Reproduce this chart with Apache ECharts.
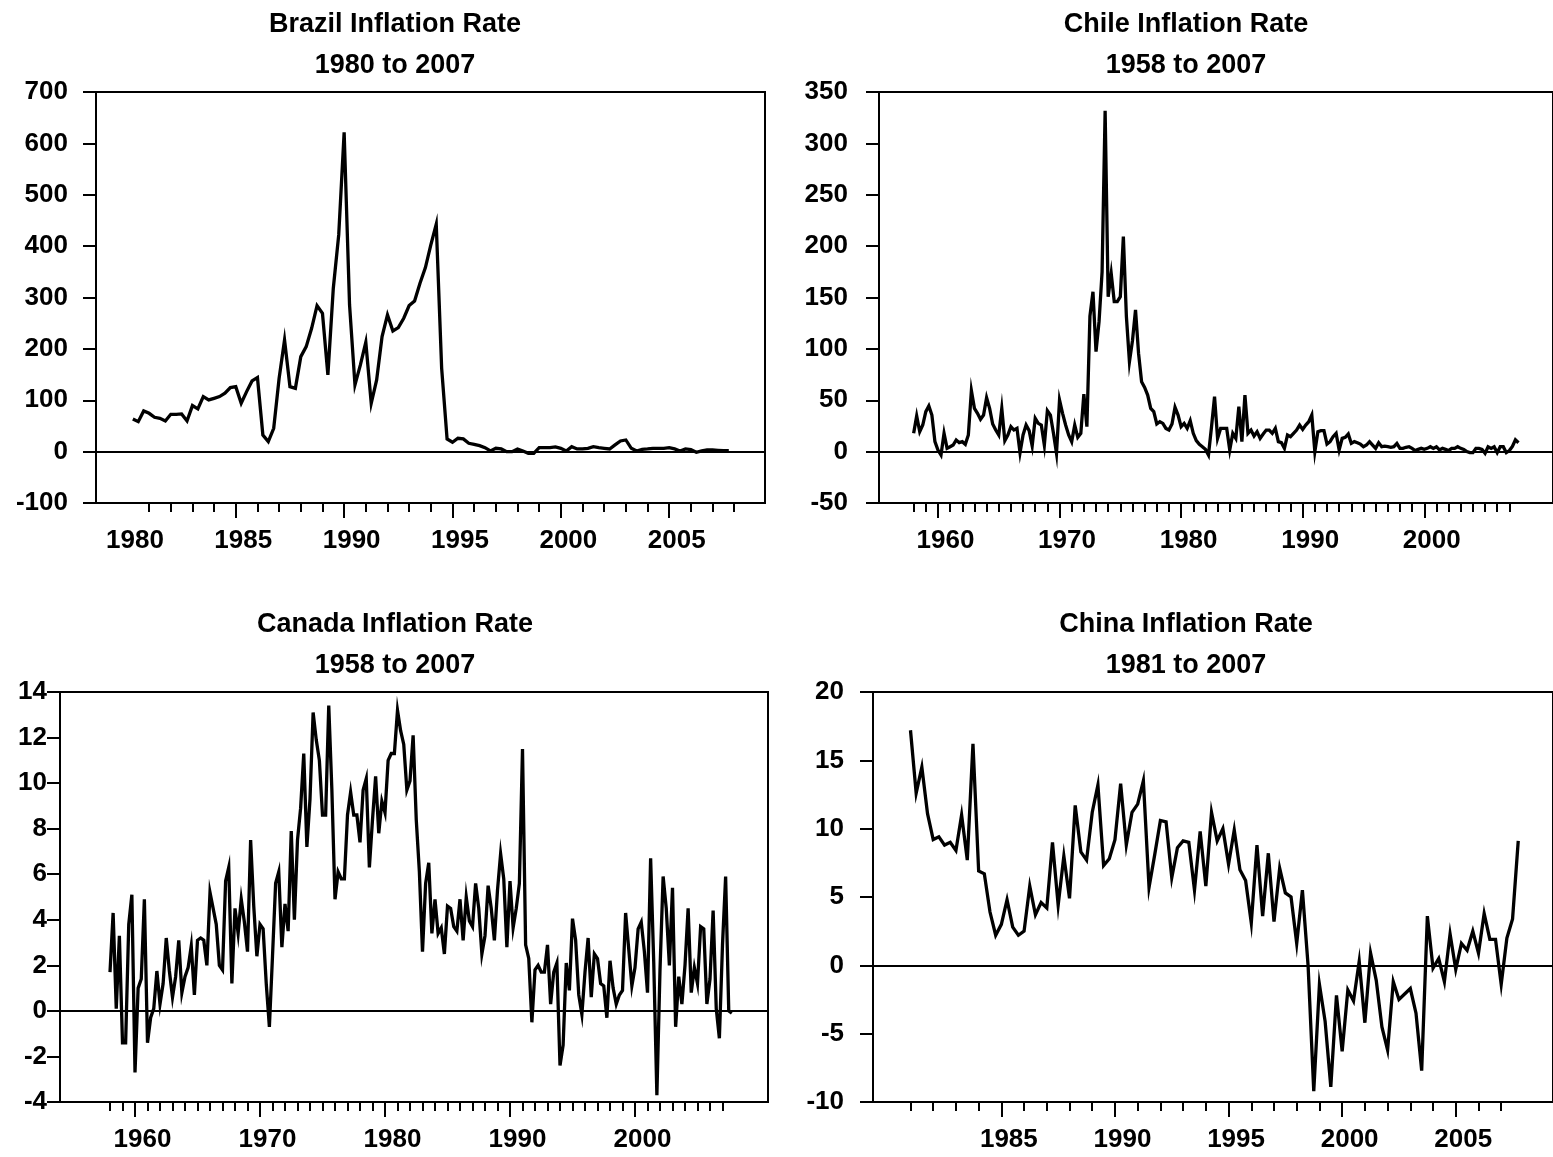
<!DOCTYPE html>
<html>
<head>
<meta charset="utf-8">
<title>Inflation Rates</title>
<script src="https://cdn.jsdelivr.net/npm/echarts@6/dist/echarts.min.js"></script>
<style>
  html, body { margin: 0; padding: 0; background: #ffffff; }
  #chart { width: 1553px; height: 1157px; }
</style>
</head>
<body>
<div id="chart"></div>
<script>
// Quarterly annualised inflation rates (percent); each series starts at the given year fraction.
const brazilStart = 1980.25;
const brazilRate = [
  63.6, 58.4, 79.2, 74.6, 66.8, 64.9, 59.7, 72.7, 72.7, 73.3,
  59.7, 89.6, 83.1, 107.1, 100.6, 103.8, 107.1, 113.6, 124.6, 126.5,
  94.1, 116.8, 137.6, 144.1, 32.4, 19.5, 45.4, 142.8, 217.4, 126.5,
  123.3, 184.9, 204.4, 240.1, 284.2, 269.3, 149.3, 318.0, 421.8, 621.7,
  285.5, 129.8, 168.7, 212.8, 94.1, 139.5, 223.9, 266.1, 234.9, 241.4,
  259.6, 284.2, 293.3, 327.7, 358.2, 402.3, 442.6, 162.2, 24.7, 18.2,
  26.0, 24.7, 16.2, 14.3, 11.7, 7.8, 1.3, 6.5, 5.2, 0.0,
  0.0, 5.2, 1.3, -3.2, -3.2, 7.8, 7.8, 7.8, 9.1, 6.5,
  1.3, 9.7, 5.2, 5.2, 6.5, 9.7, 7.8, 6.5, 5.2, 13.0,
  20.8, 22.7, 6.5, 1.3, 4.5, 5.2, 6.5, 6.5, 6.5, 7.8,
  5.2, 1.3, 5.2, 3.9, -1.3, 1.3, 3.2, 3.2, 2.6, 1.9,
  1.9
];

const chileStart = 1958.0;
const chileRate = [
  17.8, 34.7, 19.4, 25.9, 38.9, 44.4, 35.6, 9.7, 1.6, -3.3,
  17.8, 3.2, 4.8, 6.4, 11.3, 8.7, 9.7, 7.1, 16.2, 59.3,
  42.1, 37.3, 31.4, 35.6, 52.5, 42.1, 26.9, 21.0, 16.2, 42.1,
  10.7, 16.2, 24.3, 21.0, 22.6, -1.0, 16.2, 25.9, 20.4, 5.5,
  32.4, 27.5, 25.9, 6.4, 39.9, 35.6, 17.8, -1.7, 50.2, 37.3,
  25.9, 16.2, 9.7, 25.9, 13.9, 17.8, 56.0, 24.3, 131.9, 155.6,
  97.3, 126.5, 175.0, 331.8, 150.8, 173.5, 146.0, 146.0, 150.8, 209.2,
  131.3, 87.5, 108.0, 138.0, 95.6, 68.0, 62.5, 55.0, 42.1, 38.9,
  26.9, 29.1, 27.5, 22.6, 21.0, 26.9, 43.1, 35.6, 24.3, 27.5,
  22.6, 30.1, 17.8, 10.7, 7.1, 4.8, 2.2, -3.3, 24.0, 53.5,
  12.9, 22.6, 22.6, 22.6, 1.6, 17.8, 12.9, 43.7, 9.7, 55.1,
  17.8, 21.0, 15.2, 19.4, 12.9, 17.1, 21.0, 21.0, 17.8, 22.6,
  9.7, 8.7, 3.2, 16.2, 14.5, 17.8, 21.0, 25.9, 21.7, 25.9,
  29.1, 35.6, 0.0, 19.4, 20.4, 20.4, 7.3, 9.7, 14.5, 17.8,
  1.6, 12.9, 13.9, 17.1, 8.0, 9.7, 8.7, 7.3, 4.8, 6.4,
  9.7, 6.4, 3.2, 8.7, 4.8, 5.4, 4.8, 4.2, 4.8, 8.0,
  3.2, 3.2, 4.2, 4.8, 3.2, 1.0, 2.2, 3.2, 2.2, 3.2,
  4.8, 3.2, 4.8, 1.6, 3.2, 2.2, 1.0, 3.2, 3.2, 4.8,
  3.2, 2.2, 0.0, -1.0, -1.0, 3.2, 3.2, 2.2, -1.7, 4.8,
  3.2, 4.8, -1.0, 4.8, 4.8, -1.0, 1.0, 5.0, 11.5, 8.7
];

const canadaStart = 1958.0;
const canadaRate = [
  1.7, 4.3, 0.1, 3.3, -1.4, -1.4, 3.8, 5.1, -2.7, 1.0,
  1.4, 4.9, -1.4, -0.3, 0.1, 1.75, 0.3, 1.2, 3.2, 1.75,
  0.6, 1.5, 3.1, 0.8, 1.5, 1.9, 2.85, 0.7, 3.1, 3.2,
  3.1, 2.0, 5.2, 4.5, 3.8, 2.0, 1.8, 5.7, 6.3, 1.2,
  4.5, 3.4, 4.9, 3.9, 2.6, 7.5, 4.6, 2.4, 3.8, 3.6,
  1.2, -0.7, 2.4, 5.6, 6.1, 2.8, 4.7, 3.5, 7.9, 4.0,
  7.5, 8.9, 11.3, 7.2, 9.3, 13.1, 11.9, 11.0, 8.6, 8.6,
  13.4, 9.7, 4.9, 6.1, 5.8, 5.8, 8.6, 9.6, 8.6, 8.6,
  7.4, 9.7, 10.2, 6.3, 8.4, 10.3, 7.8, 9.2, 8.7, 11.0,
  11.3, 11.3, 13.2, 12.3, 11.7, 9.7, 10.1, 12.1, 8.4, 6.1,
  2.6, 5.6, 6.5, 3.4, 4.9, 3.4, 3.65, 2.5, 4.6, 4.5,
  3.7, 3.5, 4.9, 3.1, 5.0, 3.95, 3.7, 5.6, 4.5, 2.5,
  3.3, 5.5, 4.5, 3.1, 5.3, 6.9, 5.8, 2.8, 5.7, 3.65,
  4.5, 5.6, 11.5, 2.9, 2.3, -0.5, 1.8, 2.0, 1.7, 1.7,
  2.9, 0.3, 1.7, 2.1, -2.4, -1.5, 2.1, 0.9, 4.05, 3.1,
  0.7, -0.15, 1.7, 3.2, 0.6, 2.5, 2.3, 1.2, 1.1, -0.3,
  2.2, 1.0, 0.3, 0.7, 0.9, 4.3, 2.7, 1.1, 1.9, 3.6,
  3.9, 2.6, 0.8, 6.7, 2.1, -3.7, 1.8, 5.9, 4.5, 2.0,
  5.4, -0.7, 1.5, 0.3, 2.0, 4.5, 0.8, 1.9, 1.2, 3.7,
  3.6, 0.3, 1.4, 4.4, 0.1, -1.2, 2.9, 5.9, 0.0, -0.1
];

const chinaStart = 1981.0;
const chinaRate = [
  17.2, 12.6, 14.5, 11.1, 9.2, 9.4, 8.8, 9.0, 8.4, 11.0,
  7.7, 16.2, 6.9, 6.7, 3.9, 2.2, 3.0, 4.8, 2.8, 2.2,
  2.5, 5.8, 3.7, 4.6, 4.2, 9.0, 4.4, 8.0, 4.9, 11.7,
  8.3, 7.7, 11.2, 13.2, 7.3, 7.8, 9.2, 13.3, 8.8, 11.2,
  11.8, 13.5, 5.7, 8.1, 10.6, 10.5, 6.4, 8.6, 9.1, 9.0,
  5.5, 9.8, 5.8, 11.2, 9.1, 10.0, 7.4, 9.9, 7.0, 6.2,
  3.1, 8.8, 3.6, 8.2, 3.2, 7.1, 5.3, 5.0, 1.6, 5.5,
  0.0, -9.2, -1.4, -4.1, -8.9, -2.2, -6.3, -1.8, -2.6, 0.3,
  -4.2, 0.9, -1.1, -4.5, -6.2, -1.2, -2.5, -2.1, -1.7, -3.5,
  -7.7, 3.6, -0.2, 0.5, -1.2, 2.3, -0.3, 1.6, 1.1, 2.5,
  0.9, 3.8, 1.9, 1.9, -1.4, 2.0, 3.4, 9.1
];

// Titles and axis tick labels
const titles = [
  ['Brazil Inflation Rate', '1980 to 2007'],
  ['Chile Inflation Rate', '1958 to 2007'],
  ['Canada Inflation Rate', '1958 to 2007'],
  ['China Inflation Rate', '1981 to 2007']
];
const brazilYearLabels = [1980, 1985, 1990, 1995, 2000, 2005];
const chileYearLabels = [1960, 1970, 1980, 1990, 2000];
const canadaYearLabels = [1960, 1970, 1980, 1990, 2000];
const chinaYearLabels = [1985, 1990, 1995, 2000, 2005];
const brazilValueTicks = [-100, 700, 100];   // min, max, step
const chileValueTicks = [-50, 350, 50];
const canadaValueTicks = [-4, 14, 2];
const chinaValueTicks = [-10, 20, 5];

function yearRange(a, b) {
  const out = [];
  for (let y = a; y <= b; y++) out.push(y);
  return out;
}

function quarterly(start, values) {
  return values.map((v, i) => [start + i / 4, v]);
}

// Panel layout: plot rectangles, visible year span, tick spans, label offsets
const panels = [
  { title: titles[0], titleX: 390, titleY: -1,
    grid: { left: 96, top: 92, width: 669, height: 411 },
    xMin: 1978.55, xMax: 2009.42, minorFrom: 1981, minorTo: 2008,
    labels: brazilYearLabels, majors: brazilYearLabels.filter(y => y >= 1981),
    yTicks: brazilValueTicks, yMargin: 28,
    data: quarterly(brazilStart, brazilRate) },
  { title: titles[1], titleX: 1181, titleY: -1,
    grid: { left: 879, top: 92, width: 676, height: 411 },
    xMin: 1955.15, xMax: 2010.59, minorFrom: 1958, minorTo: 2007,
    labels: chileYearLabels, majors: chileYearLabels,
    yTicks: chileValueTicks, yMargin: 31,
    data: quarterly(chileStart, chileRate) },
  { title: titles[2], titleX: 390, titleY: 599,
    grid: { left: 60, top: 692, width: 708, height: 410 },
    xMin: 1954.0, xMax: 2010.64, minorFrom: 1958, minorTo: 2007,
    labels: canadaYearLabels, majors: canadaYearLabels,
    yTicks: canadaValueTicks, yMargin: 13,
    data: quarterly(canadaStart, canadaRate) },
  { title: titles[3], titleX: 1181, titleY: 599,
    grid: { left: 873, top: 692, width: 682, height: 410 },
    xMin: 1979.35, xMax: 2009.28, minorFrom: 1981, minorTo: 2007,
    labels: chinaYearLabels, majors: chinaYearLabels,
    yTicks: chinaValueTicks, yMargin: 29,
    data: quarterly(chinaStart, chinaRate) }
];

const FONT = '"Liberation Sans", Arial, Helvetica, sans-serif';
const black = '#000000';

const option = {
  animation: false,
  backgroundColor: '#ffffff',
  title: [],
  grid: [],
  xAxis: [],
  yAxis: [],
  series: []
};

panels.forEach((p, i) => {
  option.title.push({
    text: p.title[0] + '\n' + p.title[1],
    left: p.titleX,
    top: p.titleY,
    textAlign: 'center',
    textStyle: { fontFamily: FONT, fontSize: 27, fontWeight: 'bold', color: black, lineHeight: 41 }
  });

  option.grid.push(Object.assign({
    show: true, borderColor: black, borderWidth: 2, backgroundColor: 'transparent'
  }, p.grid));

  // yearly ticks along the bottom edge
  option.xAxis.push({
    type: 'value', gridIndex: i, position: 'bottom',
    min: p.xMin, max: p.xMax,
    axisLine: { show: true, onZero: false, lineStyle: { color: black, width: 2 } },
    axisTick: { show: true, customValues: yearRange(p.minorFrom, p.minorTo), length: 9,
                lineStyle: { color: black, width: 2 } },
    axisLabel: { show: false },
    splitLine: { show: false }
  });
  // longer ticks and year labels
  option.xAxis.push({
    type: 'value', gridIndex: i, position: 'bottom',
    min: p.xMin, max: p.xMax,
    axisLine: { show: false, onZero: false },
    axisTick: { show: true, customValues: p.majors, length: 15,
                lineStyle: { color: black, width: 2 } },
    axisLabel: { show: true, customValues: p.labels, margin: 25,
                 padding: [0, 0, 0, 15],
                 formatter: v => String(v),
                 fontFamily: FONT, fontSize: 26, fontWeight: 'bold', color: black },
    splitLine: { show: false }
  });

  option.yAxis.push({
    type: 'value', gridIndex: i, position: 'left',
    min: p.yTicks[0], max: p.yTicks[1], interval: p.yTicks[2],
    axisLine: { show: true, onZero: false, lineStyle: { color: black, width: 2 } },
    axisTick: { show: true, inside: false, length: 13, lineStyle: { color: black, width: 2 } },
    axisLabel: { show: true, margin: p.yMargin, formatter: v => String(v),
                 fontFamily: FONT, fontSize: 26, fontWeight: 'bold', color: black },
    splitLine: { show: false }
  });

  option.series.push({
    type: 'line',
    xAxisIndex: i * 2,
    yAxisIndex: i,
    data: p.data,
    showSymbol: false,
    symbol: 'none',
    lineStyle: { color: black, width: 3.3, join: 'miter' },
    markLine: {
      silent: true,
      symbol: ['none', 'none'],
      label: { show: false },
      lineStyle: { color: black, width: 2, type: 'solid' },
      data: [{ yAxis: 0 }]
    }
  });
});

const chart = echarts.init(document.getElementById('chart'), null, { renderer: 'canvas' });
chart.setOption(option);
</script>
</body>
</html>
